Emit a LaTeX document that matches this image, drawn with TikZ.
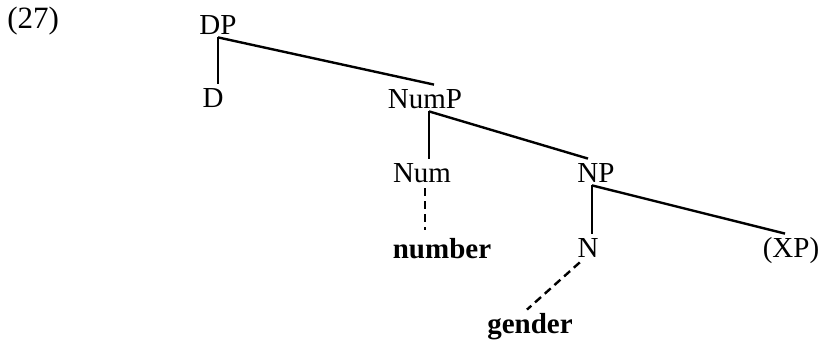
\documentclass[tikz,border=0pt]{standalone}
\usepackage{fontspec}
\setmainfont{Liberation Serif}
\usepackage{tikz}
\usetikzlibrary{positioning}
\usetikzlibrary{calc}

\tikzset{
	cat/.style={inner sep=0pt, anchor=base, text height=12pt, text depth=1pt,
		font=\fontsize{14.5}{16}\selectfont},
	feat/.style={cat, font=\fontsize{14.5}{16}\selectfont\bfseries},
	branch/.style={line width=1.2pt},
	assoc/.style={line width=1.2pt, dash pattern=on 4pt off 2.5pt, shorten <=1.5pt},
}

\begin{document}
\begin{tikzpicture}[x=0.5pt, y=-0.5pt]
	
	% ------------------------------------------------
	% Size of the whole graphic
	\useasboundingbox (0,0) rectangle (831,341);
	
	% ------------------------------------------------
	% Example number
	\node[cat, anchor=base west, font=\fontsize{15.5}{17}\selectfont] (ExNum) at (7,29) {(27)};
	
	% ----------------
	% Categories
	\node[cat] (DP)   at (218,35)  {DP};
	\node[cat] (D)    at (213,108) {D};
	\node[cat] (NumP) at (425,109) {NumP};
	\node[cat] (Num)  at (422,183) {Num};
	\node[cat] (NP)   at (596,183) {NP};
	\node[cat] (N)    at (588,258) {N};
	\node[cat] (XP)   at (791,258) {(XP)};
	
	% ----------------
	% Features
	\node[feat] (Number) at (442,259) {number};
	\node[feat] (Gender) at (530,334) {gender};
	
	%%%%%%%%%%%%%%%%%%%%%%%%%%%%%%%%%%%%%%%%%
	%Branches
	\draw[branch] (DP.south) -- (DP.south |- D.north);
	\draw[branch] (DP.south) -- ([xshift=4.5pt]NumP.north);
	
	\draw[branch] ([xshift=2pt]NumP.south) -- ([xshift=2pt]NumP.south |- Num.north);
	\draw[branch] ([xshift=2pt]NumP.south) -- ([xshift=-4pt]NP.north);
	
	\draw[branch] ([xshift=-2pt]NP.south) -- ([xshift=-2pt]NP.south |- N.north);
	\draw[branch] ([xshift=-2pt]NP.south) -- ([xshift=-3pt]XP.north);
	
	% ----------------
	% Feature links
	\draw[assoc, shorten >=2.5pt] ([xshift=1.5pt]Num.south) -- ([xshift=1.5pt]Num.south |- Number.north);
	\draw[assoc] ([xshift=-3pt]N.south) -- ([xshift=-1.5pt]Gender.north);
	
\end{tikzpicture}
\end{document}
